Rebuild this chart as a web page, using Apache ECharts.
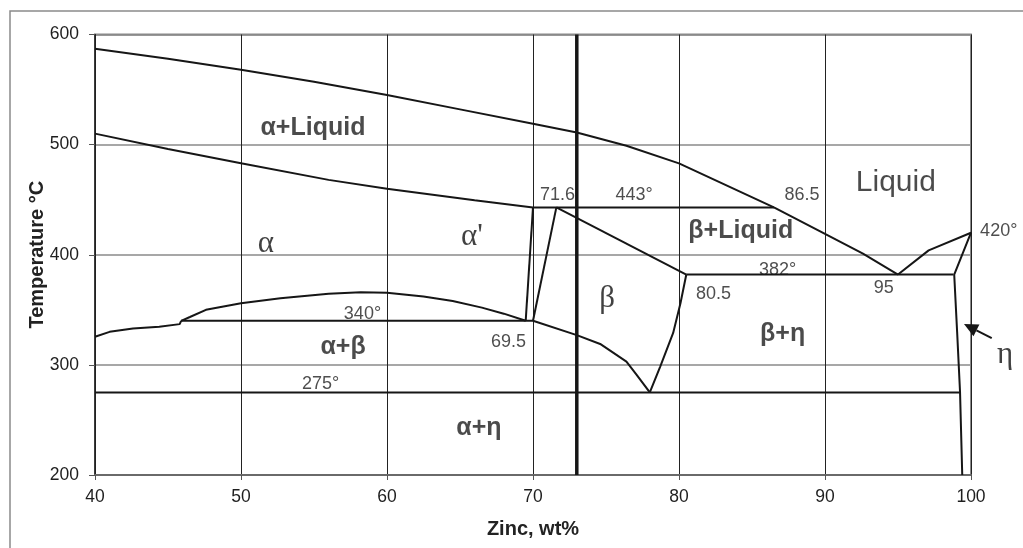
<!DOCTYPE html>
<html>
<head>
<meta charset="utf-8">
<title>Cu–Zn phase diagram (Zn-rich side)</title>
<script src="https://cdn.jsdelivr.net/npm/echarts@6/dist/echarts.min.js"></script>
<style>
  html, body { margin: 0; padding: 0; background: #fff; }
  #chart { width: 1023px; height: 548px; }
</style>
</head>
<body>
<div id="chart"></div>
<script>
// Cu–Zn equilibrium diagram, 40–100 wt% Zn. Every boundary is a list of [wt% Zn, °C].
const xTicks = [40, 50, 60, 70, 80, 90, 100];
const yTicks = [200, 300, 400, 500, 600];

const liquidusAlpha   = [[40, 587], [45, 578], [50, 568], [55, 557], [60, 545], [65, 532], [70, 519], [73, 511], [76.4, 499], [80, 483], [86.5, 443]];
const liquidusBeta    = [[86.5, 443], [90, 419], [92.6, 401], [95, 382]];
const liquidusZinc    = [[95, 382], [97.1, 404], [100, 420]];
const solidusAlpha    = [[40, 510], [45, 496], [50, 483], [56, 468], [60, 460], [66, 449.5], [70, 443]];
const peritectic443   = [[70, 443], [86.5, 443]];
const betaLiquidLine  = [[71.6, 443], [80.5, 382]];
const eutectic382     = [[80.5, 382], [98.8, 382]];
const etaSolvus       = [[100, 420], [98.85, 382], [99.05, 330], [99.25, 275], [99.4, 200]];
const betaRightSolvus = [[78, 275], [78.7, 298], [79.6, 329], [80.1, 356], [80.5, 382]];
const betaLeftSolvus  = [[70, 340], [73, 327], [74.6, 319], [76.4, 303], [77.1, 291], [78, 275]];
const alphaPrimeLeft  = [[69.5, 340], [70, 443]];
const alphaPrimeRight = [[70, 340], [71.6, 443]];
const iso340          = [[45.9, 340], [70, 340]];
const alphaPrimeDome  = [[45.9, 340], [46.5, 343.5], [47.6, 350], [50, 356], [52.7, 360.5], [56, 364.5], [58.2, 366], [60, 365.5], [62.5, 362], [64.5, 358], [66.5, 352], [68, 346.5], [69.5, 340]];
const alphaBetaSolvus = [[40, 325.5], [41, 330], [42.6, 333], [44.4, 334.7], [45.8, 337], [45.9, 340]];
const eutectoid275    = [[40, 275], [99.25, 275]];
const alloyLine       = [[73, 200], [73, 600]];

// phase field names and the key compositions / temperatures written on the diagram
const phaseNames   = ['α+Liquid', 'β+Liquid', 'Liquid', 'α', "α'", 'β', 'α+β', 'α+η', 'β+η', 'η'];
const compositions = [71.6, 69.5, 80.5, 86.5, 95];
const temperatures = [443, 382, 340, 275, 420];

// where each piece of text sits, in data units
const phaseAnchors = [[54.93, 514.6], [84.23, 421.3], [94.85, 465.8], [51.71, 409.8], [65.82, 416.4],
                      [75.07, 359.5], [56.99, 316], [66.3, 242.7], [87.1, 327.8], [102.33, 309.5]];
const phaseStyles  = ['boldSans', 'boldSans', 'bigSans', 'serif', 'serif', 'serif', 'boldSans', 'boldSans', 'boldSans', 'serif'];
const compAnchors  = [[71.68, 453.9], [68.32, 320.7], [82.36, 363.9], [88.42, 453.9], [94.02, 370]];
const tempAnchors  = [[76.92, 453.9], [86.75, 386.4], [58.32, 346.4], [55.45, 282.8], [101.9, 421.5]];
const etaArrow     = { from: [101.42, 324.2], to: [99.52, 337.1] };

const SANS = '"Liberation Sans", Arial, sans-serif';
const SERIF = '"Liberation Serif", "Times New Roman", serif';
const INK = '#161616';

const textStyles = {
  boldSans: { fontFamily: SANS, fontSize: 25, fontWeight: 'bold', color: '#1e1e1e' },
  bigSans:  { fontFamily: SANS, fontSize: 30, fontWeight: 'normal', color: '#1e1e1e' },
  serif:    { fontFamily: SERIF, fontSize: 31, fontWeight: 'normal', color: '#111' },
  number:   { fontFamily: SANS, fontSize: 18, fontWeight: 'normal', color: '#222' }
};

function boundary(points, width) {
  return {
    type: 'line',
    data: points,
    showSymbol: false,
    symbol: 'none',
    smooth: false,
    clip: false,
    silent: true,
    z: 4,
    lineStyle: { color: INK, width: width || 2 }
  };
}

const labelItems = [];
phaseNames.forEach((name, i) => {
  labelItems.push({ name, value: phaseAnchors[i], label: textStyles[phaseStyles[i]] });
});
compositions.forEach((c, i) => {
  labelItems.push({ name: String(c), value: compAnchors[i], label: textStyles.number });
});
temperatures.forEach((t, i) => {
  labelItems.push({ name: t + '°', value: tempAnchors[i], label: textStyles.number });
});

const boundaries = [liquidusAlpha, liquidusBeta, liquidusZinc, solidusAlpha, peritectic443,
  betaLiquidLine, eutectic382, etaSolvus, betaRightSolvus, betaLeftSolvus, alphaPrimeLeft,
  alphaPrimeRight, iso340, alphaPrimeDome, alphaBetaSolvus, eutectoid275];

const chart = echarts.init(document.getElementById('chart'), null, { renderer: 'canvas' });

chart.setOption({
  animation: false,
  backgroundColor: '#fff',
  grid: { left: 95, right: 52, top: 34.5, bottom: 73, show: true, borderColor: '#8a8a8a', borderWidth: 2 },
  xAxis: {
    type: 'value',
    min: xTicks[0], max: xTicks[xTicks.length - 1], interval: xTicks[1] - xTicks[0],
    name: 'Zinc, wt%', nameLocation: 'middle', nameGap: 44, nameMoveOverlap: false,
    nameTextStyle: { fontFamily: SANS, fontSize: 20, fontWeight: 'bold', color: '#222' },
    axisLine: { show: true, lineStyle: { color: '#6a6a6a', width: 2 } },
    axisTick: { show: true, length: 5, lineStyle: { color: '#555', width: 1 } },
    axisLabel: { fontFamily: SANS, fontSize: 17.5, color: '#1e1e1e', margin: 13 },
    splitLine: { show: true, lineStyle: { color: '#222', width: 1 } }
  },
  yAxis: {
    type: 'value',
    min: yTicks[0], max: yTicks[yTicks.length - 1], interval: yTicks[1] - yTicks[0],
    name: 'Temperature °C', nameLocation: 'middle', nameGap: 48, nameRotate: 90, nameMoveOverlap: false,
    nameTextStyle: { fontFamily: SANS, fontSize: 20, fontWeight: 'bold', color: '#222' },
    axisLine: { show: true, lineStyle: { color: '#222', width: 1.5 } },
    axisTick: { show: true, length: 6, lineStyle: { color: '#555', width: 1 } },
    axisLabel: { fontFamily: SANS, fontSize: 17.5, color: '#1e1e1e', margin: 16 },
    splitLine: { show: true, lineStyle: { color: '#8a8a8a', width: 1.5 } }
  },
  series: [
    ...boundaries.map(b => boundary(b, 2)),
    boundary(alloyLine, 3.5),
    {
      type: 'scatter',
      data: labelItems,
      symbolSize: 0,
      clip: false,
      silent: true,
      z: 2,
      label: {
        show: true,
        position: 'inside',
        align: 'center',
        verticalAlign: 'middle',
        formatter: p => p.name
      }
    }
  ]
});

// outer frame and the pointer from the η label to the η field
function drawOverlay() {
  const tail = chart.convertToPixel({ gridIndex: 0 }, etaArrow.from);
  const tip = chart.convertToPixel({ gridIndex: 0 }, etaArrow.to);
  const dx = tip[0] - tail[0], dy = tip[1] - tail[1];
  const len = Math.hypot(dx, dy);
  const ux = dx / len, uy = dy / len;
  const headLen = 14, headHalf = 6.5;
  const bx = tip[0] - ux * headLen, by = tip[1] - uy * headLen;
  chart.setOption({
    graphic: [
      {
        type: 'rect', silent: true, z: 0,
        shape: { x: 10, y: 11, width: 1100, height: 700 },
        style: { fill: 'none', stroke: '#8a8a8a', lineWidth: 1.5 }
      },
      {
        type: 'line', silent: true, z: 10,
        shape: { x1: tail[0], y1: tail[1], x2: bx, y2: by },
        style: { stroke: INK, lineWidth: 2 }
      },
      {
        type: 'polygon', silent: true, z: 10,
        shape: { points: [tip, [bx - uy * headHalf, by + ux * headHalf], [bx + uy * headHalf, by - ux * headHalf]] },
        style: { fill: INK }
      }
    ]
  });
}
drawOverlay();
</script>
</body>
</html>
